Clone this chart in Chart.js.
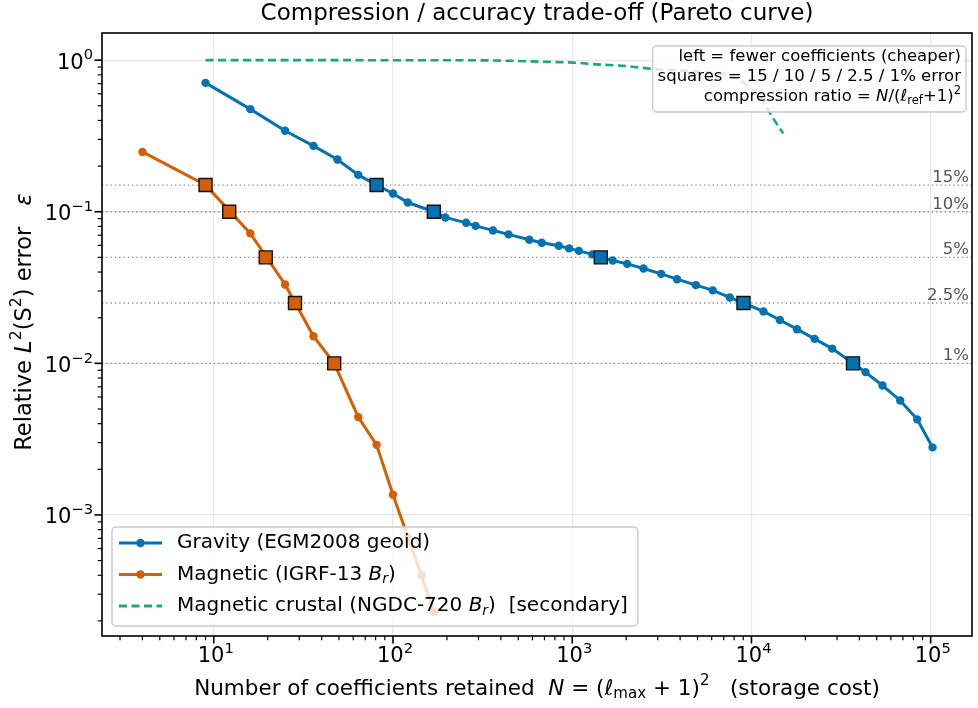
<!DOCTYPE html>
<html>
<head>
<meta charset="utf-8">
<script src="https://cdn.jsdelivr.net/npm/chart.js@4.4.1/dist/chart.umd.min.js"></script>
<style>
html, body { margin: 0; padding: 0; background: #fff; }
#wrap { width: 978px; height: 708px; }
</style>
</head>
<body>
<div id="wrap"><canvas id="paretoChart"></canvas></div>
<script>
// values
const gravityN = [9, 16, 25, 36, 49, 64, 81, 100, 121, 169, 196, 256, 289, 361, 441, 576, 676, 841, 961, 1089,
    1296, 1444, 1681, 2025, 2500, 3136, 3844, 4900, 6084, 7569, 9025, 11664, 14400, 17956, 22500, 28224, 36864,
    43264, 53824, 67600, 84100, 102400];
const gravityEps = [0.708, 0.475, 0.342, 0.272, 0.221, 0.175, 0.150, 0.132, 0.115, 0.100, 0.0917, 0.0845, 0.0807,
    0.0753, 0.0709, 0.0653, 0.0624, 0.0596, 0.0573, 0.0552, 0.0523, 0.0500, 0.0477, 0.0453, 0.0422, 0.0389, 0.0359,
    0.0328, 0.0303, 0.0272, 0.0250, 0.0220, 0.0193, 0.0168, 0.0145, 0.0125, 0.0100, 0.00875, 0.00714, 0.00569,
    0.00427, 0.00279];

const magneticN = [4, 9, 16, 25, 36, 47, 64, 81, 100, 121, 144, 169];
const magneticEps = [0.248, 0.150, 0.072, 0.0331, 0.0151, 0.0100, 0.00442, 0.0029, 0.00136, 0.000717, 0.000400, 0.000230];

const crustalN = [9, 305, 467, 720, 1076, 1304, 2010, 2890, 5150, 7870, 11140, 13220, 15030];
const crustalEps = [1.0, 0.997, 0.989, 0.974, 0.960, 0.941, 0.913, 0.872, 0.837, 0.776, 0.573, 0.413, 0.328];

const thresholds = [0.15, 0.10, 0.05, 0.025, 0.01];
const thresholdLabels = ['15%', '10%', '5%', '2.5%', '1%'];
const gravitySquareN = [81, 169, 1444, 9025, 36864];
const magneticSquareN = [9, 12.2, 19.5, 28.4, 47];

const xTickValues = [1e1, 1e2, 1e3, 1e4, 1e5];
const xTickExps = ['1', '2', '3', '4', '5'];
const yTickValues = [1e-3, 1e-2, 1e-1, 1];
const yTickExps = ['\u22123', '\u22122', '\u22121', '0'];

const BLUE = '#0072B2';
const ORANGE = '#D55E00';
const GREEN = 'rgba(0, 158, 115, 0.9)';
const FONT = '"DejaVu Sans"';
const TITLE = 'Compression / accuracy trade-off (Pareto curve)';

const pts = (xs, ys) => xs.map((v, i) => ({ x: v, y: ys[i] }));

// rich text (italic / sub / sup) for labels the library cannot format
function partFont(style, size) {
    const small = style === 'sub' || style === 'sup' || style === 'subi';
    const it = style === 'i' || style === 'subi' ? 'italic ' : '';
    return it + (small ? size * 0.7 : size) + 'px ' + FONT;
}
function richWidth(ctx, parts, size) {
    let w = 0;
    parts.forEach(([t, s]) => { ctx.font = partFont(s, size); w += ctx.measureText(t).width; });
    return w;
}
function drawRich(ctx, parts, x, y, size, align, color) {
    const w = richWidth(ctx, parts, size);
    let cx = align === 'right' ? x - w : align === 'center' ? x - w / 2 : x;
    ctx.fillStyle = color || '#000';
    ctx.textAlign = 'left';
    ctx.textBaseline = 'middle';
    parts.forEach(([t, s]) => {
        ctx.font = partFont(s, size);
        let dy = 0;
        if (s === 'sub' || s === 'subi') dy = size * 0.25;
        if (s === 'sup') dy = -size * 0.36;
        ctx.fillText(t, cx, y + dy);
        cx += ctx.measureText(t).width;
    });
}
function roundBox(ctx, x, y, w, h, r) {
    ctx.beginPath();
    ctx.moveTo(x + r, y);
    ctx.arcTo(x + w, y, x + w, y + h, r);
    ctx.arcTo(x + w, y + h, x, y + h, r);
    ctx.arcTo(x, y + h, x, y, r);
    ctx.arcTo(x, y, x + w, y, r);
    ctx.closePath();
    ctx.fillStyle = 'rgba(255,255,255,0.8)';
    ctx.fill();
    ctx.strokeStyle = 'rgba(204,204,204,1)';
    ctx.lineWidth = 1.5;
    ctx.stroke();
}

const legendItems = [
    { color: BLUE, dash: null, marker: true, parts: [['Gravity (EGM2008 geoid)', 'n']] },
    { color: ORANGE, dash: null, marker: true, parts: [['Magnetic (IGRF-13 ', 'n'], ['B', 'i'], ['r', 'subi'], [')', 'n']] },
    { color: GREEN, dash: [8, 4.5], marker: false, parts: [['Magnetic crustal (NGDC-720 ', 'n'], ['B', 'i'], ['r', 'subi'], [')  [secondary]', 'n']] }
];
const noteLines = [
    [['left = fewer coefficients (cheaper)', 'n']],
    [['squares = 15 / 10 / 5 / 2.5 / 1% error', 'n']],
    [['compression ratio = ', 'n'], ['N', 'i'], ['/(', 'n'], ['ℓ', 'i'], ['ref', 'sub'], ['+1)', 'n'], ['2', 'sup']]
];
const xTitle = [['Number of coefficients retained  ', 'n'], ['N', 'i'], [' = (', 'n'], ['ℓ', 'i'], ['max', 'sub'],
    [' + 1)', 'n'], ['2', 'sup'], ['   (storage cost)', 'n']];
const yTitle = [['Relative ', 'n'], ['L', 'i'], ['2', 'sup'], ['(S', 'n'], ['2', 'sup'], [')', 'n'], [' error   ', 'n'], ['ε', 'i']];

const decor = {
    id: 'decor',
    beforeDatasetsDraw(chart) {
        const { ctx, chartArea: a, scales: { y } } = chart;
        ctx.save();
        ctx.strokeStyle = 'rgba(110,110,110,0.8)';
        ctx.lineWidth = 1.3;
        ctx.setLineDash([1.3, 3]);
        thresholds.forEach(t => {
            const py = y.getPixelForValue(t);
            ctx.beginPath();
            ctx.moveTo(a.left, py);
            ctx.lineTo(a.right, py);
            ctx.stroke();
        });
        ctx.restore();
    },
    afterDatasetsDraw(chart) {
        const { ctx, chartArea: a, scales: { y } } = chart;
        ctx.save();
        // threshold labels
        ctx.font = '16.5px ' + FONT;
        ctx.fillStyle = '#555';
        ctx.textAlign = 'right';
        ctx.textBaseline = 'alphabetic';
        thresholds.forEach((t, i) => {
            ctx.fillText(thresholdLabels[i], a.right - 3, y.getPixelForValue(t) - 3);
        });
        // frame
        ctx.strokeStyle = '#000';
        ctx.lineWidth = 1.6;
        ctx.strokeRect(a.left, a.top, a.right - a.left, a.bottom - a.top);

        // note box
        const ns = 16.5;
        const nw = Math.max(...noteLines.map(p => richWidth(ctx, p, ns)));
        const nRight = a.right - 6;
        roundBox(ctx, nRight - nw - 10, a.top + 13, nw + 10, 66, 4);
        noteLines.forEach((p, i) => drawRich(ctx, p, nRight - 5, a.top + 24 + i * 20, ns, 'right'));

        // legend
        const ls = 20;
        const lw = Math.max(...legendItems.map(it => richWidth(ctx, it.parts, ls)));
        const lx = a.left + 10, ly = a.bottom - 109;
        roundBox(ctx, lx, ly, lw + 75, 99, 4);
        legendItems.forEach((it, i) => {
            const ry = ly + 16 + i * 31.5;
            ctx.strokeStyle = it.color;
            ctx.lineWidth = 3;
            ctx.setLineDash(it.dash || []);
            ctx.beginPath();
            ctx.moveTo(lx + 7, ry);
            ctx.lineTo(lx + 50, ry);
            ctx.stroke();
            ctx.setLineDash([]);
            if (it.marker) {
                ctx.fillStyle = it.color;
                ctx.beginPath();
                ctx.arc(lx + 28.5, ry, 4.2, 0, Math.PI * 2);
                ctx.fill();
            }
            drawRich(ctx, it.parts, lx + 65, ry, ls, 'left');
        });
        ctx.restore();
    },
    afterDraw(chart) {
        const { ctx, chartArea: a, scales: { x, y } } = chart;
        ctx.save();
        // title, centred over the plot area
        ctx.font = '23px ' + FONT;
        ctx.fillStyle = '#000';
        ctx.textAlign = 'center';
        ctx.textBaseline = 'middle';
        ctx.fillText(TITLE, (a.left + a.right) / 2, 14);

        // major and minor tick marks
        ctx.strokeStyle = '#000';
        for (let k = -5; k <= 6; k++) {
            for (let m = 1; m <= 9; m++) {
                const v = m * Math.pow(10, k);
                const len = m === 1 ? 7.5 : 4.3;
                ctx.lineWidth = m === 1 ? 1.6 : 1.2;
                if (v >= x.min && v <= x.max) {
                    const px = x.getPixelForValue(v);
                    ctx.beginPath(); ctx.moveTo(px, a.bottom); ctx.lineTo(px, a.bottom + len); ctx.stroke();
                }
                if (v >= y.min && v <= y.max) {
                    const py = y.getPixelForValue(v);
                    ctx.beginPath(); ctx.moveTo(a.left, py); ctx.lineTo(a.left - len, py); ctx.stroke();
                }
            }
        }
        // tick labels 10^k
        xTickValues.forEach((v, i) => {
            drawRich(ctx, [['10', 'n'], [xTickExps[i], 'sup']], x.getPixelForValue(v) + 2, 657, 21, 'center');
        });
        yTickValues.forEach((v, i) => {
            drawRich(ctx, [['10', 'n'], [yTickExps[i], 'sup']], 93, y.getPixelForValue(v) + 3, 21, 'right');
        });

        drawRich(ctx, xTitle, (a.left + a.right) / 2, 689, 21.5, 'center');
        ctx.translate(25, 322);
        ctx.rotate(-Math.PI / 2);
        drawRich(ctx, yTitle, 0, 0, 22.5, 'center');
        ctx.restore();
    }
};

const gridColor = 'rgba(176,176,176,0.3)';

new Chart(document.getElementById('paretoChart'), {
    type: 'scatter',
    data: {
        datasets: [
            {
                label: 'Gravity thresholds',
                data: pts(gravitySquareN, thresholds),
                pointStyle: 'rect',
                pointRadius: 9.2,
                backgroundColor: BLUE,
                borderColor: '#111',
                borderWidth: 1.4,
                showLine: false
            },
            {
                label: 'Magnetic thresholds',
                data: pts(magneticSquareN, thresholds),
                pointStyle: 'rect',
                pointRadius: 9.2,
                backgroundColor: ORANGE,
                borderColor: '#111',
                borderWidth: 1.4,
                showLine: false
            },
            {
                label: 'Gravity (EGM2008 geoid)',
                data: pts(gravityN, gravityEps),
                showLine: true,
                borderColor: BLUE,
                backgroundColor: BLUE,
                borderWidth: 3,
                pointRadius: 4.2,
                pointBorderWidth: 0
            },
            {
                label: 'Magnetic (IGRF-13 Br)',
                data: pts(magneticN, magneticEps),
                showLine: true,
                borderColor: ORANGE,
                backgroundColor: ORANGE,
                borderWidth: 3,
                pointRadius: 4.2,
                pointBorderWidth: 0
            },
            {
                label: 'Magnetic crustal (NGDC-720 Br)  [secondary]',
                data: pts(crustalN, crustalEps),
                showLine: true,
                borderColor: GREEN,
                borderWidth: 2.6,
                borderDash: [8, 4.5],
                pointRadius: 0,
                cubicInterpolationMode: 'monotone'
            }
        ]
    },
    options: {
        responsive: true,
        maintainAspectRatio: false,
        animation: false,
        events: [],
        layout: {
            autoPadding: false,
            padding: { left: 0, right: 6, top: 33, bottom: 0 }
        },
        scales: {
            x: {
                type: 'logarithmic',
                min: 2.38,
                max: 1.70e5,
                afterFit: scale => { scale.height = 72; },
                afterBuildTicks: scale => { scale.ticks = xTickValues.map(v => ({ value: v })); },
                grid: { color: gridColor, lineWidth: 1.2, drawTicks: false },
                border: { display: false },
                ticks: { display: false, autoSkip: false }
            },
            y: {
                type: 'logarithmic',
                min: 1.59e-4,
                max: 1.51,
                afterFit: scale => { scale.width = 102; },
                afterBuildTicks: scale => { scale.ticks = yTickValues.map(v => ({ value: v })); },
                grid: { color: gridColor, lineWidth: 1.2, drawTicks: false },
                border: { display: false },
                ticks: { display: false, autoSkip: false }
            }
        },
        plugins: {
            legend: { display: false },
            tooltip: { enabled: false },
            title: { display: false }
        }
    },
    plugins: [decor]
});
</script>
</body>
</html>
